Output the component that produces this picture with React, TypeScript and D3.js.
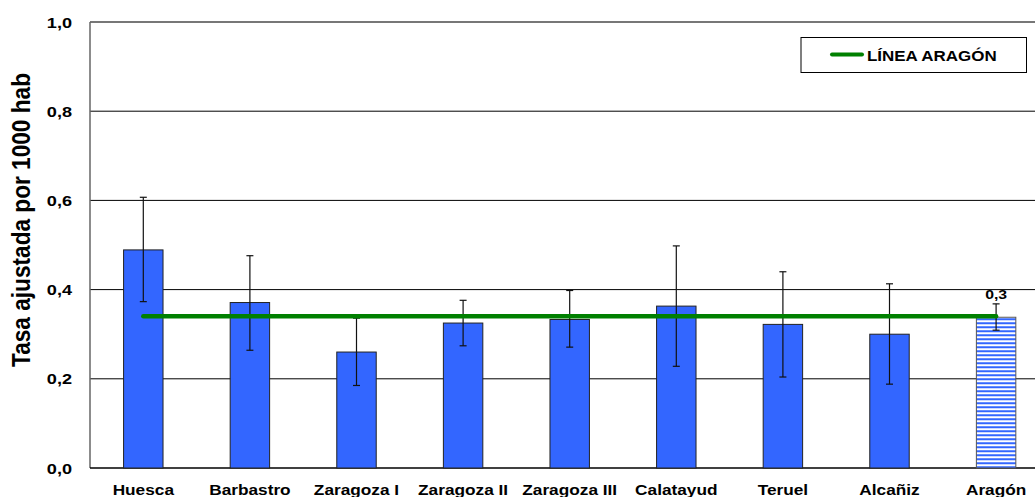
import React from "react";
import * as d3 from "d3";

const categories = ["Huesca", "Barbastro", "Zaragoza I", "Zaragoza II", "Zaragoza III", "Calatayud", "Teruel", "Alcañiz", "Aragón"];
const rates = [0.489, 0.371, 0.26, 0.325, 0.333, 0.363, 0.322, 0.3, 0.338];
const errLow = [0.373, 0.264, 0.185, 0.274, 0.271, 0.228, 0.204, 0.188, 0.309];
const errHigh = [0.607, 0.476, 0.336, 0.376, 0.398, 0.498, 0.44, 0.413, 0.368];
const aragonLine = 0.34;
const yTicks = [0, 0.2, 0.4, 0.6, 0.8, 1.0];
const aragonLabel = "0,3";
const legendLabel = "LÍNEA ARAGÓN";
const yTitle = "Tasa ajustada por 1000 hab";

const W = 1035;
const H = 497;
const left = 90;
const top = 22;
const bottom = 468;
const right = 1049.4;
const SX = 1.17;
const FONT = "Arial, 'Liberation Sans', Helvetica, sans-serif";

export default function App() {
  const x = d3.scaleBand<string>().domain(categories).range([left, right]).paddingInner(0.63).paddingOuter(0.315);
  const y = d3.scaleLinear().domain([0, 1]).range([bottom, top]);
  const fmt = (v: number) => d3.format(".1f")(v).replace(".", ",");
  const bw = x.bandwidth();
  const cx = (c: string) => (x(c) as number) + bw / 2;
  const last = categories.length - 1;

  return (
    <svg width={W} height={H} style={{ position: "absolute", left: 0, top: 0, background: "#fff" }} fontFamily={FONT}>
      <defs>
        <pattern id="stripes" patternUnits="userSpaceOnUse" width={8} height={4} y={y(rates[last])}>
          <rect x={0} y={0} width={8} height={4} fill="#ffffff" />
          <rect x={0} y={1} width={8} height={2} fill="#3366ff" />
        </pattern>
      </defs>
      {yTicks.filter((t) => t > 0 && t < 1).map((t) => (
        <line key={t} x1={left} x2={W} y1={y(t)} y2={y(t)} stroke="#000" strokeWidth={1} />
      ))}
      <line x1={left} x2={W} y1={y(1)} y2={y(1)} stroke="#777" strokeWidth={2} />
      <line x1={left} x2={left} y1={top} y2={bottom} stroke="#666" strokeWidth={1.5} />
      <line x1={left} x2={W} y1={bottom} y2={bottom} stroke="#000" strokeWidth={1.5} />

      {categories.map((c, i) => (
        <rect
          key={c}
          x={x(c)}
          y={y(rates[i])}
          width={bw}
          height={y(0) - y(rates[i])}
          fill={i === last ? "url(#stripes)" : "#3366ff"}
          stroke={i === last ? "#555" : "#222"}
          strokeWidth={1}
        />
      ))}

      {categories.map((c, i) => (
        <g key={c} stroke="#111" strokeWidth={1.2}>
          <line x1={cx(c)} x2={cx(c)} y1={y(errLow[i])} y2={y(errHigh[i])} />
          <line x1={cx(c) - 3.5} x2={cx(c) + 3.5} y1={y(errLow[i])} y2={y(errLow[i])} />
          <line x1={cx(c) - 3.5} x2={cx(c) + 3.5} y1={y(errHigh[i])} y2={y(errHigh[i])} />
        </g>
      ))}

      <line
        x1={cx(categories[0])}
        x2={cx(categories[last])}
        y1={y(aragonLine)}
        y2={y(aragonLine)}
        stroke="#008000"
        strokeWidth={4.5}
        strokeLinecap="round"
      />

      <text
        transform={`translate(${cx(categories[last])},${y(errHigh[last]) - 4.5}) scale(${SX},1)`}
        textAnchor="middle"
        fontSize={13.5}
        fontWeight="bold"
        fill="#000"
      >
        {aragonLabel}
      </text>

      {yTicks.map((t) => (
        <text
          key={t}
          transform={`translate(72,${y(t) + 5.6}) scale(${SX},1)`}
          textAnchor="end"
          fontSize={15.5}
          fontWeight="bold"
          fill="#000"
        >
          {fmt(t)}
        </text>
      ))}

      {categories.map((c) => (
        <text
          key={c}
          transform={`translate(${cx(c)},494.5) scale(1.15,1)`}
          textAnchor="middle"
          fontSize={15}
          fontWeight="bold"
          fill="#000"
        >
          {c}
        </text>
      ))}

      <text
        transform={`translate(30,220) scale(1.18,1) rotate(-90)`}
        textAnchor="middle"
        fontSize={21.5}
        fontWeight="bold"
        fill="#000"
        textLength={294}
        lengthAdjust="spacingAndGlyphs"
      >
        {yTitle}
      </text>

      <rect x={801} y={37.5} width={225.5} height={35} fill="#fff" stroke="#000" strokeWidth={1} />
      <line x1={832} x2={862} y1={54.5} y2={54.5} stroke="#008000" strokeWidth={4} strokeLinecap="round" />
      <text
        transform={`translate(867,60.5) scale(${SX},1)`}
        fontSize={14.5}
        fontWeight="bold"
        fill="#000"
      >
        {legendLabel}
      </text>
    </svg>
  );
}
